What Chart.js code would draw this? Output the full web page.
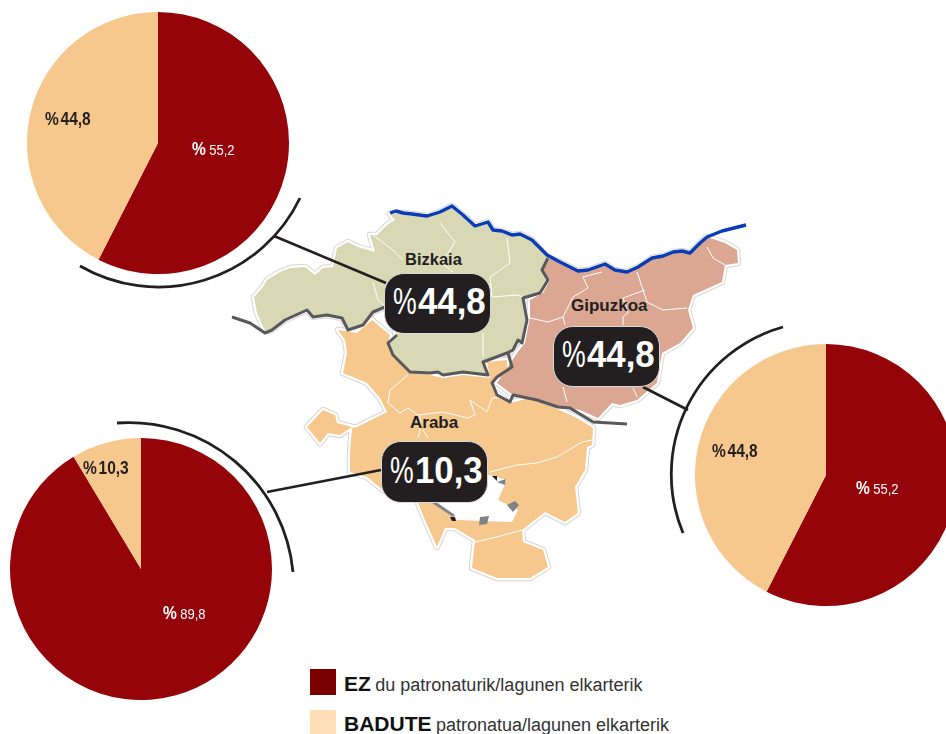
<!DOCTYPE html>
<html><head><meta charset="utf-8">
<script src="https://cdn.jsdelivr.net/npm/chart.js@4"></script>
<style>
html,body{margin:0;padding:0;background:#fff;width:946px;height:734px;overflow:hidden}
#stage{position:relative;width:946px;height:734px;overflow:hidden;font-family:"Liberation Sans",Arial,sans-serif}
svg{position:absolute;left:0;top:0}
canvas{position:absolute}
.t{position:absolute;white-space:nowrap;line-height:1}
.pct{transform:scaleX(.84);transform-origin:0 50%}
.pct em{font-style:normal;margin-left:4px}
.call{position:absolute;background:#231f20;border:1px solid #d9d9d9;box-sizing:border-box;border-radius:20px;color:#fff;font-weight:700;font-size:37px;white-space:nowrap}
.call i{position:absolute;left:8px;top:0;font-style:normal;font-weight:400;transform:scaleX(.72);transform-origin:0 50%}
.call u{position:absolute;left:33px;top:0;text-decoration:none;transform:scaleX(.94);transform-origin:0 50%}
.prov{font-weight:700;font-size:17px;color:#231f20}
.lg{color:#333}
.lg b{color:#111;font-size:21px}
.lg span{font-size:18px}
</style></head><body>
<div id="stage">
<svg width="946" height="734" viewBox="0 0 946 734" fill="none" id="map">
<g id="halo" stroke="#d6d6d6" stroke-width="6.5" stroke-linejoin="round"></g>
<g id="halo2" stroke="#fff" stroke-width="4.5" stroke-linejoin="round"></g>
<g id="fills"></g>
<g id="inner" stroke="#fff" stroke-width="1" stroke-linejoin="round"></g>
<g id="extras"></g>
<polyline stroke="#58595b" stroke-width="3" stroke-linejoin="round" points="232,317 250,323 265,333 272,330 285,320 307,310 313,317 327,315 342,318 348,330 363,325 373,312 385,307"/>
<polyline stroke="#58595b" stroke-width="3" stroke-linejoin="round" points="397,335 388,343 393,355 410,372 430,373 438,372 443,375 463,372 488,375 483,362 507,353 513,350 518,340 522,343 527,320 523,298 540,293 548,280 542,270 548,258"/>
<polyline stroke="#58595b" stroke-width="3" stroke-linejoin="round" points="508,353 512,367 497,377 492,383 497,395 510,402 513,395 537,400 558,407 570,408 593,422 627,424"/>
<polyline stroke="#0a3db5" stroke-width="3.4" stroke-linejoin="round" points="390,213 396,211 403,213 412,214 427,216 440,212 452,206 463,215 475,226 488,222 493,230 502,231 512,235 520,234 532,240 547,255 560,262 578,271 588,270 605,264 615,270 627,272 638,267 652,258 663,256 673,252 682,251 690,253 700,243 707,237 722,231 746,225"/>
<g stroke="#231f20" stroke-width="2.6">
<line x1="274" y1="236" x2="386" y2="283"/>
<line x1="643" y1="387" x2="688" y2="410"/>
<line x1="267" y1="492" x2="381" y2="470"/>
</g>
<g stroke="#231f20" stroke-width="2.8">
<path d="M300,198 A157,157 0 0 1 80,266"/>
<path d="M783,327 A153,153 0 0 0 683,533"/>
<path d="M117,423 A165,165 0 0 1 293,572"/>
</g>
</svg>
<canvas id="c0" width="264" height="264" style="left:26px;top:11px"></canvas>
<canvas id="c1" width="264" height="264" style="left:694px;top:343px"></canvas>
<canvas id="c2" width="264" height="264" style="left:9px;top:437px"></canvas>
</div>
<script>
// Values
const provinces = ['Bizkaia','Gipuzkoa','Araba'];
const seriesNames = ['EZ','BADUTE'];
const ezShare = [57.5, 57.5, 91.4];
const baduteShare = [42.5, 42.5, 8.6];
// Figures as printed
const ezPrinted = ['55,2','55,2','89,8'];
const badutePrinted = ['44,8','44,8','10,3'];
const calloutPrinted = ['44,8','44,8','10,3'];
const colors = ['#950408','#f6c88d'];

// Base map (decorative backdrop, not data)
const regions = {
 bizkaia:{fill:'#d9d8b4',pts:'390,214 395,220 387,225 377,235 370,235 375,252 358,247 348,242 337,248 333,267 323,268 315,275 305,267 290,268 280,272 267,280 263,287 254,297 257,313 265,331 272,330 285,320 307,310 313,317 327,315 342,318 348,330 363,325 373,312 385,307 397,335 388,343 393,355 410,372 430,373 438,372 443,375 463,372 488,375 483,362 507,353 513,350 518,340 522,343 527,320 523,298 540,293 548,280 542,270 548,258 532,240 520,234 512,235 502,231 493,230 488,222 475,226 463,215 452,206 440,212 427,216 412,214 403,213'},
 gipuzkoa:{fill:'#dca792',pts:'550,258 560,262 578,271 588,270 605,264 615,270 627,272 638,267 652,258 663,256 673,252 682,251 690,253 700,243 707,237 725,243 737,250 738,263 725,265 722,282 693,295 688,310 693,328 680,343 662,353 657,383 637,400 620,405 612,403 598,418 580,410 570,408 558,407 537,400 513,395 497,383 517,353 525,343 530,317 530,300 543,293 550,280 543,270'},
 araba:{fill:'#f6c88d',pts:'338,330 357,333 372,320 390,335 388,343 393,357 412,373 430,375 443,378 463,375 490,378 487,362 507,360 507,373 487,385 490,382 493,390 510,403 530,398 553,407 577,418 593,428 592,445 587,447 585,470 575,487 578,513 565,522 545,512 522,530 523,542 543,550 548,567 530,578 497,578 472,568 475,540 455,528 445,528 437,547 425,520 418,503 433,503 383,490 367,477 350,472 350,453 352,428 357,427 387,412 380,398 367,383 343,373 347,353 345,340'},
 enclave:{fill:'#f6c88d',pts:'307,427 323,410 335,415 337,423 352,427 340,435 328,433 320,443'}
};
const innerLines = [
 '373,235 393,250 403,260','440,223 455,242 442,263 453,272','507,238 510,263 490,277 492,297 517,295 523,297','483,333 483,357','373,282 378,300 385,306',
 '602,272 583,277 588,288 573,297 563,317 548,322 530,318','563,317 565,325','637,272 643,290 647,302 663,310 687,308','645,290 623,298 628,313 623,317 623,325','707,247 713,258 725,265','563,387 567,402','633,388 637,397',
 '408,375 390,390 388,403 400,413 408,408 418,415 443,412 468,418 475,415 470,400 477,405 487,412 492,398 503,397','420,415 420,430 418,438','423,430 428,438','490,472 517,465 537,463 557,457 582,442 592,440','475,542 497,537 522,530'
];
const hole = '490,475 507,480 498,500 518,510 512,522 457,520 433,503 420,480';
const patches = [['#808285','497,482 506,479 505,485'],['#808285','507,505 515,501 519,505 513,512'],['#808285','480,517 489,516 487,524 479,525'],['#231f20','492,476 497,476 497,481'],['#808285','432,503 436,502 455,515 453,517'],['#231f20','450,517 455,517 456,521 452,521']];
const NS='http://www.w3.org/2000/svg';
function poly(parent,pts,attrs){const p=document.createElementNS(NS,attrs&&attrs.line?'polyline':'polygon');p.setAttribute('points',pts);if(attrs&&attrs.fill)p.setAttribute('fill',attrs.fill);document.getElementById(parent).appendChild(p);}
Object.values(regions).forEach(r=>{poly('halo',r.pts);poly('halo2',r.pts);poly('fills',r.pts,{fill:r.fill});});
innerLines.forEach(l=>poly('inner',l,{line:true}));
poly('extras',hole,{fill:'#fff'});
patches.forEach(p=>poly('extras',p[1],{fill:p[0]}));

// Pies
provinces.forEach((name,i)=>{
 new Chart(document.getElementById('c'+i),{
  type:'pie',
  data:{labels:seriesNames,datasets:[{data:[ezShare[i],baduteShare[i]],backgroundColor:colors,borderWidth:0,radius:131}]},
  options:{responsive:false,animation:false,events:[],layout:{padding:0},
   plugins:{legend:{display:false},tooltip:{enabled:false},title:{display:false}}}
 });
});

// Text
const stage=document.getElementById('stage');
function text(html,x,y,style,cls){const d=document.createElement('div');d.className=cls||'t';d.innerHTML=html;d.style.left=x+'px';d.style.top=y+'px';Object.assign(d.style,style||{});stage.appendChild(d);return d;}
const lightPos=[[45,110],[712,442],[83,459]];
const ezPos=[[192,140],[856,479],[163,604]];
provinces.forEach((n,i)=>{
 text('<span style="font-size:18.5px;font-weight:700">%</span><em style="font-size:18.5px;font-weight:700;margin-left:2px">'+badutePrinted[i]+'</em>',lightPos[i][0],lightPos[i][1],{color:'#231f20'},'t pct');
 text('<span style="font-size:18.5px;font-weight:700">%</span><em style="font-size:15.5px">'+ezPrinted[i]+'</em>',ezPos[i][0],ezPos[i][1],{color:'#fff'},'t pct');
});
const provPos=[[405,251],[571,297],[410,414]];
const provSize=['16.5px','17px','17px'];
provinces.forEach((n,i)=>{text(n,provPos[i][0],provPos[i][1],{fontSize:provSize[i]},'t prov');});
const callBox=[[384,273,107,61],[553,326,107,61],[381,441,107,62]];
callBox.forEach((b,i)=>{
 text('<i>%</i><u>'+calloutPrinted[i]+'</u>',b[0],b[1],{width:b[2]+'px',height:b[3]+'px',lineHeight:(b[3]-5)+'px'},'call');
});
// Legend
function swatch(x,y,w,h,c){const d=document.createElement('div');Object.assign(d.style,{position:'absolute',left:x+'px',top:y+'px',width:w+'px',height:h+'px',background:c});stage.appendChild(d);}
swatch(310,669,26,26,'#7a0000');
swatch(310,710,26,24,'#fedfb8');
text('<b>EZ</b> <span>du patronaturik/lagunen elkarterik</span>',344,673,{},'t lg');
text('<b>BADUTE</b> <span>patronatua/lagunen elkarterik</span>',344,713,{},'t lg');
</script>
</body></html>
